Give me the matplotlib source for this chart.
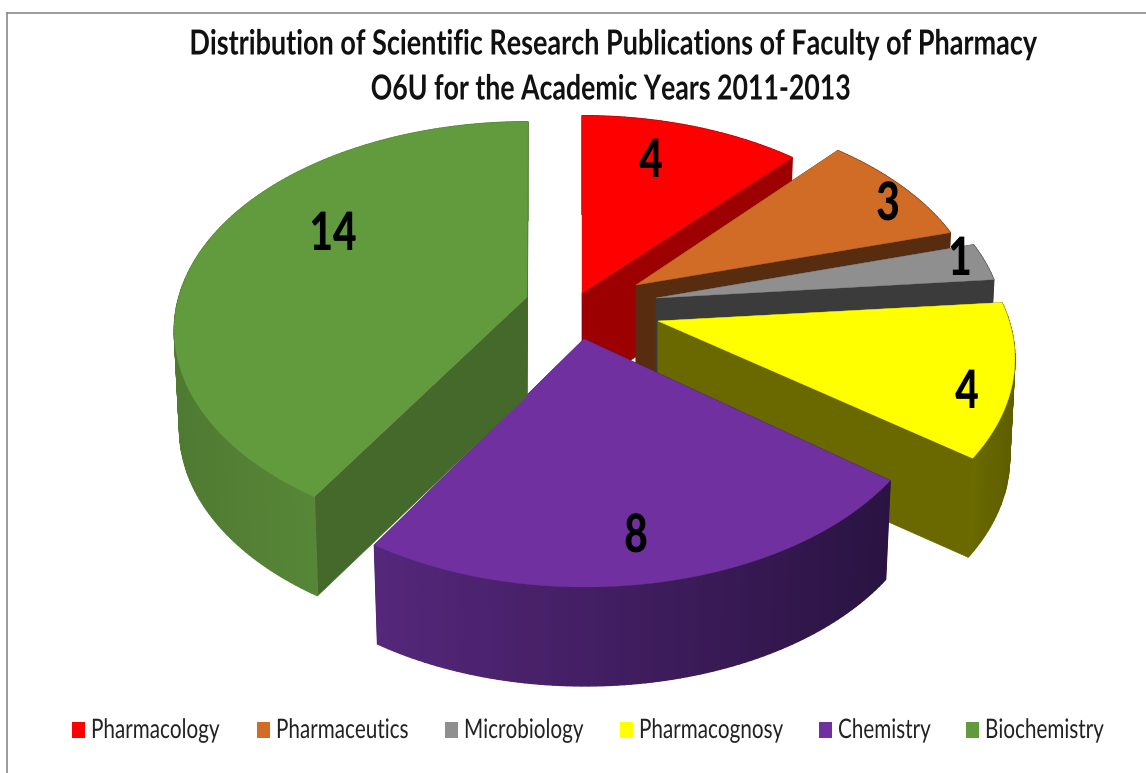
import numpy as np
import matplotlib
matplotlib.use("Agg")
import matplotlib.pyplot as plt
from matplotlib.patches import Polygon, Rectangle
from matplotlib.patheffects import AbstractPathEffect
from matplotlib.transforms import Affine2D

categories = ["Pharmacology", "Pharmaceutics", "Microbiology", "Pharmacognosy", "Chemistry", "Biochemistry"]
values = [4, 3, 1, 4, 8, 14]
title_lines = ["Distribution of Scientific Research Publications of Faculty of Pharmacy",
               "O6U for the Academic Years 2011-2013"]

top_colors = ["#ff0000", "#d06c26", "#8f8f8f", "#ffff00", "#7030a0", "#629a3e"]
wall_colors = ["#9c0000", "#582c0e", "#3b3b3b", "#696900", "#3a1a58", "#44692b"]
grad_colors = [("#9c0000", "#9c0000"), ("#582c0e", "#582c0e"), ("#3b3b3b", "#3b3b3b"),
               ("#6a6a00", "#5e5e00"), ("#55277b", "#2a1342"), ("#4f7a32", "#5a8a39")]

apex = [(582, 293), (636, 285), (656, 298), (658, 321), (584, 339), (527, 297)]
rim_origin = [(582, 293), (621, 286), (644, 298), (662, 321), (585, 345), (528, 296)]
rim_xscale = [0.97, 1.0, 1.0, 0.975, 0.97, 0.98]
rim_persp = [0.145, 0.145, 0.145, 0.18, 0.161, 0.165]
label_xy = [(651, 160), (888, 203), (960, 258), (967, 391), (636, 535), (333, 233)]
R, RK, DEPTH, SHRINK = 356.0, 203.0, 99.0, 0.985
FONT = "Lato"


class Stretch(AbstractPathEffect):
    """Scale drawn glyphs about a vertical anchor line and the text baseline."""

    def __init__(self, xs, ys, anchor_px):
        super().__init__()
        self.xs, self.ys, self.anchor = xs, ys, anchor_px

    def draw_path(self, renderer, gc, tpath, affine, rgbFace=None):
        base_y = affine.to_values()[5]
        extra = Affine2D().translate(-self.anchor, -base_y).scale(self.xs, self.ys).translate(self.anchor, base_y)
        renderer.draw_path(gc, tpath, affine + extra, rgbFace)


fig = plt.figure(figsize=(11.46, 7.73), dpi=100, facecolor="white")
ax = fig.add_axes([0, 0, 1, 1])
ax.set_xlim(0, 1146)
ax.set_ylim(773, 0)
ax.axis("off")

ax.plot([7, 7], [13, 773], color="#8a8a8a", lw=1.2)
ax.plot([7, 1146], [13, 13], color="#8a8a8a", lw=1.2)


def put_text(x, y, s, xs, ys, **kw):
    anchor = ax.transData.transform((x, y))[0]
    return ax.text(x, y, s, family=FONT, path_effects=[Stretch(xs, ys, anchor)], **kw)


def rim(i, t):
    t = np.radians(t)
    s = 1 / (1 + rim_persp[i] * np.cos(t))
    o = rim_origin[i]
    return o[0] + rim_xscale[i] * R * np.sin(t) * s, o[1] - RK * np.cos(t) * s


def lower(a, p):
    return a[0] + SHRINK * (p[0] - a[0]), p[1] + DEPTH


def lerp(c1, c2, f):
    c1, c2 = np.array(matplotlib.colors.to_rgb(c1)), np.array(matplotlib.colors.to_rgb(c2))
    return tuple(c1 + (c2 - c1) * f)


edges = np.concatenate([[0], np.cumsum(values)]) * 360.0 / sum(values)
for i, (v, a) in enumerate(zip(values, apex)):
    t0, t1 = edges[i], edges[i + 1]
    o = rim_origin[i]
    ax.add_patch(Polygon([a, rim(i, t1), lower(o, rim(i, t1)), lower(a, a)], fc=wall_colors[i], ec=wall_colors[i], lw=0.5))
    ax.add_patch(Polygon([a, rim(i, t0), lower(o, rim(i, t0)), lower(a, a)], fc=wall_colors[i], ec=wall_colors[i], lw=0.5))
    ts = np.linspace(t0, t1, max(int(t1 - t0), 4) + 1)
    pts = [rim(i, t) for t in ts]
    xs = np.array([p[0] for p in pts])
    for j in range(len(ts) - 1):
        p, q = pts[j], pts[j + 1]
        f = (0.5 * (p[0] + q[0]) - xs.min()) / max(xs.max() - xs.min(), 1)
        if i == 5:
            f = 1 - abs(2 * f - 1)
        c = lerp(grad_colors[i][0], grad_colors[i][1], f)
        ax.add_patch(Polygon([p, q, lower(o, q), lower(o, p)], fc=c, ec=c, lw=1.0))
    ax.add_patch(Polygon([a] + pts, fc=top_colors[i], ec=top_colors[i], lw=0.3))
    put_text(label_xy[i][0], label_xy[i][1] + 3, str(v), 0.86, 1.12, weight=900, fontsize=34,
             color="black", ha="center", va="center")

put_text(614, 45, title_lines[0], 0.845, 1.08, weight="bold", fontsize=23, ha="center", va="center", color="#111111")
put_text(611, 90, title_lines[1], 0.835, 1.08, weight="bold", fontsize=23, ha="center", va="center", color="#111111")

legend_x = [72, 257, 445, 620, 819, 966]
for name, c, x in zip(categories, top_colors, legend_x):
    ax.add_patch(Rectangle((x, 722), 13, 16, fc=c, ec="none"))
    put_text(x + 19, 732, name, 0.96, 1.25, fontsize=15.5, va="center", ha="left", color="#222222")

fig.savefig("out.png", dpi=100, facecolor="white")
